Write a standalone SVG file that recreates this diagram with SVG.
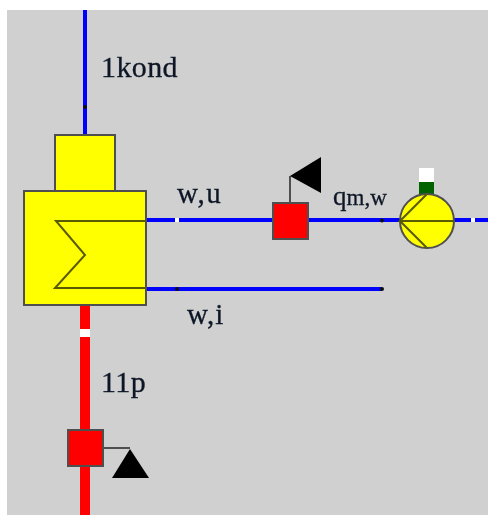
<svg xmlns="http://www.w3.org/2000/svg" width="488" height="515" viewBox="0 0 488 515">
<style>
.t{font-family:"Liberation Serif","Times New Roman",serif;fill:#101828;stroke:#101828;stroke-width:0.3}
.b{stroke:#0000ff;stroke-width:4;fill:none}
.r{stroke:#ff0000;stroke-width:10;fill:none}
.o{stroke:#505050;stroke-width:2;fill:none}
.y{fill:#ffff00;stroke:#505050;stroke-width:2}
.rs{fill:#ff0000;stroke:#505050;stroke-width:2}
.g{stroke:#5a5a00;stroke-width:2;fill:none}
.d{fill:#111}
.w{fill:#fff}
</style>
<defs><filter id="soft" x="0" y="0" width="488" height="515" filterUnits="userSpaceOnUse"><feGaussianBlur stdDeviation="0.45"/></filter></defs>
<rect x="0" y="0" width="488" height="515" fill="#fff"/>
<rect x="7" y="10" width="481" height="505" fill="#d0d0d0"/>
<g filter="url(#soft)">
<g id="connectors">
<path class="b" d="M85 10V135"/>
<path class="b" d="M146 220H400"/>
<path class="b" d="M454 220H488"/>
<path class="b" d="M146 289H382"/>
<path class="r" d="M85 305V515"/>
<rect class="w" x="80" y="329" width="10" height="8"/>
<rect class="w" x="175" y="218" width="4" height="4"/>
<rect class="w" x="471" y="218" width="4" height="4"/>
<circle class="d" cx="85" cy="107" r="2"/>
<circle class="d" cx="382" cy="220.500" r="2"/>
<circle class="d" cx="177" cy="289" r="2"/>
<circle class="d" cx="382" cy="289" r="2"/>
</g>
<g id="condenser">
<rect class="y" x="55" y="135" width="60" height="56"/>
<rect class="y" x="24" y="191" width="122" height="114"/>
<path class="g" d="M146 221H56L85 255L55 288H146"/>
</g>
<g id="sensor-top">
<path class="o" d="M290 203V176"/>
<path d="M290 176L321 157V193Z" fill="#000"/>
<rect class="rs" x="273" y="203" width="35" height="36"/>
</g>
<g id="sensor-bottom">
<path class="o" d="M103 448H130"/>
<path d="M112 478L130 449L149 478Z" fill="#000"/>
<rect class="rs" x="68" y="430" width="35" height="36"/>
</g>
<g id="pump">
<rect class="w" x="419" y="168" width="15" height="14"/>
<rect x="419" y="182" width="15" height="13" fill="#006400"/>
<circle class="y" cx="427" cy="221" r="27"/>
<path class="g" d="M454 221H400L427 194M400 221L427 248"/>
</g>
<g id="labels">
<text class="t" x="101" y="77" font-size="30" letter-spacing="0.400">1kond</text>
<text class="t" x="177" y="203" font-size="29" letter-spacing="1.500">w,u</text>
<text class="t" x="187" y="324" font-size="29" letter-spacing="1">w,i</text>
<text class="t" x="101" y="392" font-size="30" letter-spacing="0.400">11p</text>
<text class="t" x="333" y="205" font-size="27">q<tspan font-size="23">m,w</tspan></text>
</g>
</g>
</svg>
